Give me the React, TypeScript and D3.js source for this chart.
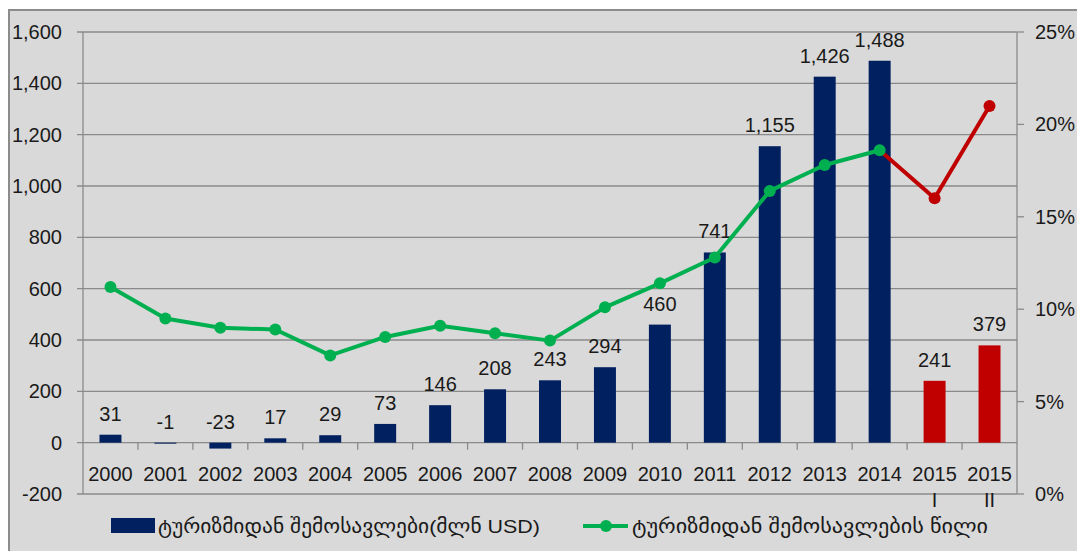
import React from "react";
import { scaleBand, scaleLinear, line } from "d3";

const categories = ["2000", "2001", "2002", "2003", "2004", "2005", "2006", "2007", "2008", "2009", "2010", "2011", "2012", "2013", "2014", "2015 I", "2015 II"];
const revenue = [31, -1, -23, 17, 29, 73, 146, 208, 243, 294, 460, 741, 1155, 1426, 1488, 241, 379];
const share = [11.2, 9.5, 9.0, 8.9, 7.5, 8.5, 9.1, 8.7, 8.3, 10.1, 11.4, 12.8, 16.4, 17.8, 18.6, 16.0, 21.0];
const leftTicks = [-200, 0, 200, 400, 600, 800, 1000, 1200, 1400, 1600];
const rightTicks = [0, 5, 10, 15, 20, 25];
const legendBar = "ტურიზმიდან შემოსავლები(მლნ USD)";
const legendLine = "ტურიზმიდან შემოსავლების წილი";

const W = 1077;
const H = 551;
const navy = "#002060";
const green = "#00b050";
const red = "#c00000";
const grid = "#8a8a8a";
const font = "'Liberation Sans', 'DejaVu Sans', sans-serif";

const App = () => {
  // plot box
  const left = 83, right = 1017, top = 32, bottom = 494;

  const x = scaleBand().domain(categories).range([left, right]).paddingInner(0.6).paddingOuter(0.3);
  const band = scaleBand().domain(categories).range([left, right]);
  const y = scaleLinear().domain([-200, 1600]).range([bottom, top]);
  const y2 = scaleLinear().domain([0, 25]).range([bottom, top]);

  const cx = (c) => band(c) + band.bandwidth() / 2;
  const pts = categories.map((c, i) => [cx(c), y2(share[i])]);
  const path = line();
  const greenPts = pts.slice(0, 15);
  const redPts = pts.slice(14);
  const fmt = (v) => v.toLocaleString("en-US");

  return (
    <div style={{ position: "absolute", left: 0, top: 0 }}>
      <svg width={W} height={H} style={{ display: "block", fontFamily: font }}>
        <rect x={0} y={0} width={W} height={H} fill="#fff" />
        <rect x={9} y={10} width={W} height={H} fill="#d9d9d9" stroke="#8c8c8c" strokeWidth={2} />

        {/* grid + left axis */}
        {leftTicks.map((t) => (
          <g key={t}>
            <line x1={left - 6} x2={right} y1={y(t)} y2={y(t)} stroke={grid} strokeWidth={1.3} />
            <text x={62} y={y(t) + 7} textAnchor="end" fontSize={20} fill="#1a1a1a">{fmt(t)}</text>
          </g>
        ))}
        <line x1={left} x2={left} y1={top} y2={bottom} stroke={grid} strokeWidth={1.3} />
        <line x1={right} x2={right} y1={top} y2={bottom} stroke={grid} strokeWidth={1.3} />
        {rightTicks.map((t) => (
          <g key={t}>
            <line x1={right} x2={right + 7} y1={y2(t)} y2={y2(t)} stroke={grid} strokeWidth={1.3} />
            <text x={1035} y={y2(t) + 7} fontSize={20} fill="#1a1a1a">{t}%</text>
          </g>
        ))}

        {/* category ticks */}
        {categories.slice(1).map((c) => (
          <line key={c} x1={band(c)} x2={band(c)} y1={y(0)} y2={y(0) + 7} stroke={grid} strokeWidth={1.3} />
        ))}
        {categories.map((c) => {
          const parts = c.split(" ");
          return (
            <text key={c} x={cx(c)} y={481} textAnchor="middle" fontSize={20} fill="#1a1a1a">
              <tspan x={cx(c)}>{parts[0]}</tspan>
              {parts[1] && <tspan x={cx(c)} dy={26}>{parts[1]}</tspan>}
            </text>
          );
        })}

        {/* bars */}
        {categories.map((c, i) => {
          const v = revenue[i];
          const y0 = y(Math.max(0, v));
          const h = Math.abs(y(v) - y(0));
          return (
            <g key={c}>
              <rect x={x(c)} y={y0} width={x.bandwidth()} height={Math.max(h, 1)} fill={i >= 15 ? red : navy} />
              <text x={cx(c)} y={y0 - 14} textAnchor="middle" fontSize={20} fill="#1a1a1a">{fmt(v)}</text>
            </g>
          );
        })}

        {/* share line */}
        <path d={path(redPts)} fill="none" stroke={red} strokeWidth={4} strokeLinejoin="round" />
        <path d={path(greenPts)} fill="none" stroke={green} strokeWidth={4} strokeLinejoin="round" />
        {pts.map((p, i) => (
          <circle key={i} cx={p[0]} cy={p[1]} r={6} fill={i >= 15 ? red : green} />
        ))}

        {/* legend */}
        <rect x={111} y={518} width={44} height={15} fill={navy} />
        <text x={158} y={533} fontSize={19} fill="#1a1a1a" textLength={382} lengthAdjust="spacingAndGlyphs">{legendBar}</text>
        <line x1={583} x2={628} y1={526} y2={526} stroke={green} strokeWidth={4} />
        <circle cx={606} cy={526} r={6} fill={green} />
        <text x={632} y={533} fontSize={19} fill="#1a1a1a" textLength={356} lengthAdjust="spacingAndGlyphs">{legendLine}</text>
      </svg>
    </div>
  );
};

export default App;
